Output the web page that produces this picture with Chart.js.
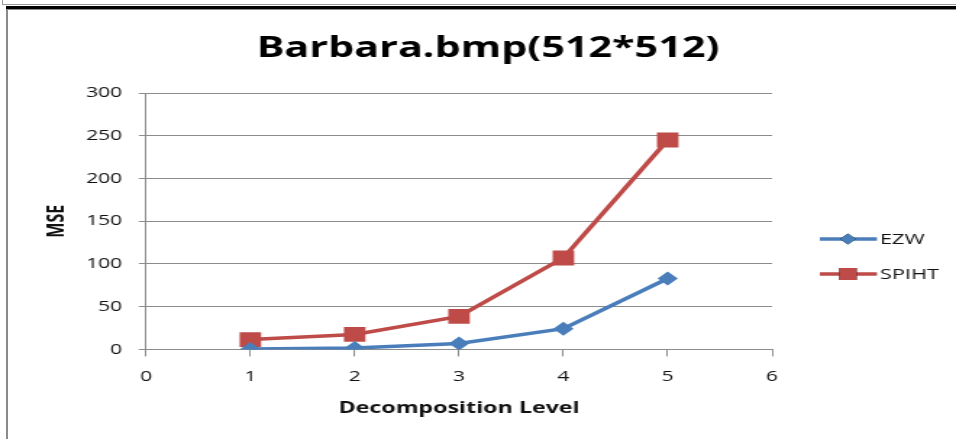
<!DOCTYPE html>
<html>
<head>
<meta charset="utf-8">
<script src="https://cdn.jsdelivr.net/npm/chart.js@4/dist/chart.umd.min.js"></script>
<style>
  html, body { margin: 0; padding: 0; background: #fff; }
  #wrap { position: relative; width: 956px; height: 439px; overflow: hidden; }
  /* the chart is laid out narrow and widened horizontally */
  #stage { position: absolute; left: 0; top: 0; width: 660px; height: 439px;
           transform: scaleX(1.4485); transform-origin: 0 0; }
  #chart { display: block; }
  .rule { position: absolute; }
</style>
</head>
<body>
<div id="wrap">
  <div id="stage"><canvas id="chart" width="660" height="439"></canvas></div>
  <div class="rule" style="left:2px; top:0; width:954px; height:4px; border-left:1px solid #9a9a9a; border-bottom:1px solid #9a9a9a;"></div>
  <div class="rule" style="left:6px; top:6px; width:950px; height:3px; background:#000;"></div>
  <div class="rule" style="left:6px; top:9px; width:950px; height:1px; background:#8a8a8a;"></div>
  <div class="rule" style="left:6px; top:9px; width:2px; height:430px; background:#8a8a8a;"></div>
</div>
<script>
// Decomposition levels and MSE per coder
const levels = [1, 2, 3, 4, 5];
const ezwMSE = [0.5, 1.5, 7, 24.2, 82.9];
const spihtMSE = [11.5, 17.5, 38.7, 107, 245];
const seriesNames = ['EZW', 'SPIHT'];
const xTicks = [0, 1, 2, 3, 4, 5, 6];
const yTicks = [0, 50, 100, 150, 200, 250, 300];

const FONT = '"Open Sans", "Noto Sans", sans-serif';
const BLUE = '#4a7ebb';
const RED = '#be4b48';

const toPoints = (ys) => levels.map((x, i) => ({ x, y: ys[i] }));

// Title centred over the whole figure rather than the layout box
const titleCentre = {
  id: 'titleCentre',
  afterLayout(chart) {
    const t = chart.titleBlock;
    if (!t) return;
    const half = (t.right - t.left) / 2;
    const cx = 336.9;
    t.left = cx - half;
    t.right = cx + half;
  }
};

// Legend drawn as line-with-marker swatches to the right of the plot
const sideLegend = {
  id: 'sideLegend',
  afterDraw(chart) {
    const ctx = chart.ctx;
    const rows = [239, 274];
    chart.data.datasets.forEach((ds, i) => {
      const y = rows[i];
      ctx.save();
      ctx.strokeStyle = ds.borderColor;
      ctx.lineWidth = 3.5;
      ctx.beginPath();
      ctx.moveTo(566, y);
      ctx.lineTo(605.4, y);
      ctx.stroke();
      Chart.helpers.drawPoint(ctx, {
        pointStyle: ds.pointStyle,
        radius: ds.legendRadius,
        borderWidth: 0
      }, 585.4, y);
      ctx.fillStyle = ds.backgroundColor;
      ctx.fill();
      ctx.fillStyle = '#111';
      ctx.font = '15px ' + FONT;
      ctx.textBaseline = 'middle';
      ctx.textAlign = 'left';
      ctx.fillText(ds.label, 607.5, y + 1);
      ctx.restore();
    });
  }
};

new Chart(document.getElementById('chart'), {
  type: 'line',
  data: {
    datasets: [
      {
        label: seriesNames[0],
        data: toPoints(ezwMSE),
        borderColor: BLUE,
        backgroundColor: BLUE,
        borderWidth: 3.5,
        pointStyle: 'rectRot',
        pointRadius: 7,
        pointHoverRadius: 7,
        pointBorderWidth: 0,
        legendRadius: 5.5,
        tension: 0
      },
      {
        label: seriesNames[1],
        data: toPoints(spihtMSE),
        borderColor: RED,
        backgroundColor: RED,
        borderWidth: 3.5,
        pointStyle: 'rect',
        pointRadius: 10.5,
        pointHoverRadius: 10.5,
        pointBorderWidth: 0,
        legendRadius: 8.5,
        tension: 0
      }
    ]
  },
  options: {
    responsive: false,
    animation: false,
    layout: { padding: { left: 30, right: 127, top: 0, bottom: 21 } },
    plugins: {
      legend: { display: false },
      tooltip: { enabled: false },
      title: {
        display: true,
        text: 'Barbara.bmp(512*512)',
        color: '#000',
        font: { family: FONT, size: 28.5, weight: 'bold' },
        padding: { top: 31.3, bottom: 27.5 }
      }
    },
    scales: {
      x: {
        type: 'linear',
        min: 0,
        max: 6,
        afterBuildTicks: (s) => { s.ticks = xTicks.map(v => ({ value: v })); },
        ticks: { color: '#111', font: { family: FONT, size: 14.5 }, padding: 12 },
        grid: { drawOnChartArea: false, color: '#8c8c8c', tickLength: 7, lineWidth: 1 },
        border: { color: '#8c8c8c', width: 1 },
        title: {
          display: true,
          text: 'Decomposition Level',
          color: '#111',
          font: { family: FONT, size: 16, weight: 'bold' },
          padding: { top: 1, bottom: 0 }
        }
      },
      y: {
        min: 0,
        max: 300,
        afterBuildTicks: (s) => { s.ticks = yTicks.map(v => ({ value: v })); },
        afterFit: (s) => { s.width = 70.8; },
        ticks: { color: '#111', font: { family: FONT, size: 14.5 }, padding: 11.5 },
        grid: { color: '#8c8c8c', tickLength: 5, lineWidth: 1 },
        border: { color: '#8c8c8c', width: 1 },
        title: {
          display: true,
          text: 'MSE',
          color: '#111',
          font: { family: FONT, size: 16, weight: 'bold' },
          padding: { top: 0, bottom: 0 }
        }
      }
    }
  },
  plugins: [titleCentre, sideLegend]
});
</script>
</body>
</html>
